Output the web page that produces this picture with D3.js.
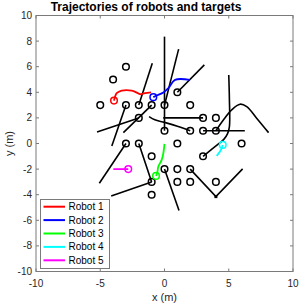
<!DOCTYPE html>
<html lang="en">
<head>
<meta charset="UTF-8">
<title>Trajectories of robots and targets</title>
<script src="https://cdn.jsdelivr.net/npm/d3@7"></script>
<style>
    body { margin: 0; background: #fff; }
    text { font-family: "Liberation Sans", Arial, sans-serif; }
</style>
</head>
<body>
<svg></svg>
<script>
    // target positions (circles)
    const targets = [
        [-4, 5], [-3, 6], [1, 4],
        [-5, 3], [-3, 3], [-2, 3], [-1, 3], [0, 3], [2, 3],
        [-2, 2], [3, 2], [4, 2],
        [0, 1], [2, 1], [3, 1], [4, 1],
        [-3, 0], [-2, 0], [1, 0], [6, 0],
        [-1, -1], [3, -1],
        [0, -2], [1, -2], [2, -2],
        [-1, -3], [1, -3], [2, -3], [4, -3],
        [-1, -4]
    ];

    // target trajectories (black lines)
    const targetPaths = [
        [[0, 8.35], [0, 1]],
        [[1.1, 7.37], [0, 3]],
        [[3.1, 6.14], [1, 4]],
        [[-0.95, 6.27], [-2, 3]],
        [[-3, 3], [-4.1, -0.2]],
        [[-5.25, 0.9], [-2, 2]],
        [[-3.2, 0.85], [-1, 3]],
        [[-1.2, 2.1], [-0.75, 1.85], [0, 1.65], [1, 1.35], [2, 1]],
        [[-0.1, 2], [3, 2]],
        [[3, 1], [6.25, 1]],
        [[5.0, 5.35], [5.05, 3.5], [5.05, 1.3], [4.9, 0.75], [4.6, 0.3], [4.3, 0.05], [3, -1]],
        [[4, 1], [4.58, 1.84], [5.23, 2.63], [5.88, 3.07], [6.4, 2.88], [7.17, 1.98], [8.1, 0.85]],
        [[-2, 0], [-1, -3]],
        [[-3, 0], [-5.07, -3.1]],
        [[-1, -3], [-4.15, -4.1]],
        [[0, -2], [1.13, -5.24]],
        [[2, -2], [4, -4.15], [6.08, -1.98]]
    ];

    // robots
    const robotNames = ['Robot 1', 'Robot 2', 'Robot 3', 'Robot 4', 'Robot 5'];
    const robotColors = ['#ff0000', '#0000ff', '#00ff00', '#00ffff', '#ff00ff'];
    const robotPaths = [
        [[-1.05, 4.0], [-1.52, 3.93], [-1.9, 3.85], [-2.16, 3.98], [-2.55, 4.13], [-3.33, 4.13], [-3.72, 3.93], [-3.85, 3.66], [-3.93, 3.35]],
        [[1.98, 4.97], [0.82, 4.97], [0.3, 4.32], [-0.09, 3.98], [-0.56, 3.77], [-0.87, 3.62]],
        [[0, -0.03], [-0.09, -0.76], [-0.22, -1.28], [-0.48, -1.8], [-0.56, -2.27], [-0.66, -2.53]],
        [[4.06, -0.97], [4.32, -0.63], [4.45, -0.37], [4.53, -0.11]],
        [[-3.98, -2.0], [-2.82, -2.0]]
    ];

    const xTicks = [-10, -5, 0, 5, 10];
    const yTicks = [-10, -8, -6, -4, -2, 0, 2, 4, 6, 8, 10];

    const width = 299, height = 304;
    const plot = { left: 36, right: 293, top: 15.5, bottom: 271.5 };

    const svg = d3.select('svg')
        .attr('width', width)
        .attr('height', height);

    const x = d3.scaleLinear().domain([-10, 10]).range([plot.left, plot.right]);
    const y = d3.scaleLinear().domain([-10, 10]).range([plot.bottom, plot.top]);

    const axisColor = '#262626';

    // box and ticks
    const axes = svg.append('g');
    axes.append('rect')
        .attr('x', plot.left).attr('y', plot.top)
        .attr('width', plot.right - plot.left)
        .attr('height', plot.bottom - plot.top)
        .attr('fill', 'none')
        .attr('stroke', '#7a7a7a')
        .attr('stroke-width', 1);

    axes.selectAll('.xt')
        .data(xTicks)
        .join('g')
        .each(function (d) {
            const g = d3.select(this);
            g.append('line').attr('x1', x(d)).attr('x2', x(d)).attr('y1', plot.bottom).attr('y2', plot.bottom - 3).attr('stroke', '#7a7a7a');
            g.append('line').attr('x1', x(d)).attr('x2', x(d)).attr('y1', plot.top).attr('y2', plot.top + 3).attr('stroke', '#7a7a7a');
            g.append('text')
                .attr('x', x(d)).attr('y', plot.bottom + 15)
                .attr('text-anchor', 'middle')
                .attr('font-size', 10)
                .attr('fill', axisColor)
                .text(d);
        });

    axes.selectAll('.yt')
        .data(yTicks)
        .join('g')
        .each(function (d) {
            const g = d3.select(this);
            g.append('line').attr('x1', plot.left).attr('x2', plot.left + 3).attr('y1', y(d)).attr('y2', y(d)).attr('stroke', '#7a7a7a');
            g.append('line').attr('x1', plot.right).attr('x2', plot.right - 3).attr('y1', y(d)).attr('y2', y(d)).attr('stroke', '#7a7a7a');
            g.append('text')
                .attr('x', plot.left - 4).attr('y', y(d))
                .attr('dy', '0.35em')
                .attr('text-anchor', 'end')
                .attr('font-size', 10)
                .attr('fill', axisColor)
                .text(d);
        });

    // labels
    svg.append('text')
        .attr('x', 146).attr('y', 10.5)
        .attr('text-anchor', 'middle')
        .attr('font-size', 12)
        .attr('font-weight', 'bold')
        .attr('fill', '#000')
        .text('Trajectories of robots and targets');
    svg.append('text')
        .attr('x', x(0)).attr('y', 301)
        .attr('text-anchor', 'middle')
        .attr('font-size', 11)
        .attr('fill', axisColor)
        .text('x (m)');
    svg.append('text')
        .attr('transform', `translate(13, ${y(0)}) rotate(-90)`)
        .attr('text-anchor', 'middle')
        .attr('font-size', 11)
        .attr('fill', axisColor)
        .text('y (m)');

    const line = d3.line().x(d => x(d[0])).y(d => y(d[1]));
    const smooth = d3.line().x(d => x(d[0])).y(d => y(d[1])).curve(d3.curveCatmullRom);

    // target trajectories
    svg.append('g')
        .selectAll('path')
        .data(targetPaths)
        .join('path')
        .attr('d', d => d.length > 3 ? smooth(d) : line(d))
        .attr('fill', 'none')
        .attr('stroke', '#000')
        .attr('stroke-width', 1.6);

    // small marker at the V vertex
    svg.append('rect')
        .attr('x', x(4) - 1.5).attr('y', y(-4.15) - 1.5)
        .attr('width', 3).attr('height', 3)
        .attr('fill', '#000');

    // targets
    svg.append('g')
        .selectAll('circle')
        .data(targets)
        .join('circle')
        .attr('cx', d => x(d[0]))
        .attr('cy', d => y(d[1]))
        .attr('r', 3.3)
        .attr('fill', 'none')
        .attr('stroke', '#000')
        .attr('stroke-width', 1.5);

    // robots
    const robots = svg.append('g')
        .selectAll('g')
        .data(robotPaths)
        .join('g');
    robots.append('path')
        .attr('d', d => smooth(d))
        .attr('fill', 'none')
        .attr('stroke', (d, i) => robotColors[i])
        .attr('stroke-width', 1.8);
    robots.append('circle')
        .attr('cx', d => x(d[d.length - 1][0]))
        .attr('cy', d => y(d[d.length - 1][1]))
        .attr('r', 3.3)
        .attr('fill', 'none')
        .attr('stroke', (d, i) => robotColors[i])
        .attr('stroke-width', 1.5);

    // legend
    const legend = svg.append('g');
    legend.append('rect')
        .attr('x', 40.5).attr('y', 199.5)
        .attr('width', 69).attr('height', 69)
        .attr('fill', '#fff')
        .attr('stroke', '#7a7a7a');
    const items = legend.selectAll('.item')
        .data(robotNames)
        .join('g')
        .attr('transform', (d, i) => `translate(0, ${206.7 + i * 13.4})`);
    items.append('line')
        .attr('x1', 43.5).attr('x2', 65)
        .attr('stroke', (d, i) => robotColors[i])
        .attr('stroke-width', 2);
    items.append('text')
        .attr('x', 68.5)
        .attr('dy', '0.35em')
        .attr('font-size', 10)
        .attr('fill', '#000')
        .text(d => d);
</script>
</body>
</html>
